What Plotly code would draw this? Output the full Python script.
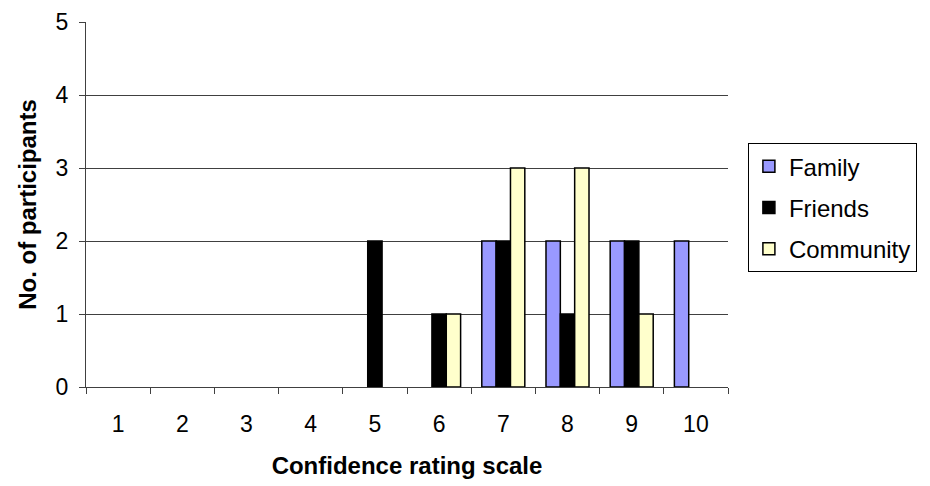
import plotly.graph_objects as go

categories = ["1", "2", "3", "4", "5", "6", "7", "8", "9", "10"]
family = [None, None, None, None, None, None, 2, 2, 2, 2]
friends = [None, None, None, None, 2, 1, 2, 1, 2, None]
community = [None, None, None, None, None, 1, 3, 3, 1, None]

series = [
    ("Family", family, "#9999FF"),
    ("Friends", friends, "#000000"),
    ("Community", community, "#FFFFCC"),
]

fig = go.Figure()
for name, vals, color in series:
    fig.add_trace(go.Bar(
        x=categories, y=vals, name=name, legendgroup=name,
        marker=dict(color=color, line=dict(color="#000000", width=1.5)),
    ))

# page body has an 8px default margin, so the figure is offset by 8px
fig.update_layout(
    width=922, height=478,
    margin=dict(l=78, r=202, t=14, b=99, autoexpand=False),
    paper_bgcolor="white", plot_bgcolor="white",
    barmode="group", bargap=0.33, bargroupgap=0,
    font=dict(family="Arial, Liberation Sans, sans-serif", color="black"),
    legend=dict(
        x=1.031, y=0.668, xanchor="left", yanchor="top",
        bordercolor="black", borderwidth=1,
        font=dict(size=24), tracegroupgap=7, traceorder="grouped",
        itemwidth=30,
    ),
    xaxis=dict(
        type="category", automargin=False,
        tickson="boundaries", ticks="outside", ticklen=6, tickcolor="#404040",
        showline=True, linecolor="#404040", linewidth=1,
        tickfont=dict(size=23), ticklabelstandoff=16,
        title=dict(text="<b>Confidence rating scale</b>", font=dict(size=24), standoff=21),
        showgrid=False,
    ),
    yaxis=dict(
        range=[0, 5], dtick=1, automargin=False,
        ticks="outside", ticklen=6, tickcolor="#404040",
        showline=True, linecolor="#404040", linewidth=1,
        showgrid=True, gridcolor="#404040", gridwidth=1,
        tickfont=dict(size=23), ticklabelstandoff=6,
        title=dict(text="<b>No. of participants</b>", font=dict(size=24), standoff=12),
        zeroline=False,
    ),
)

fig.write_html("out.html")
